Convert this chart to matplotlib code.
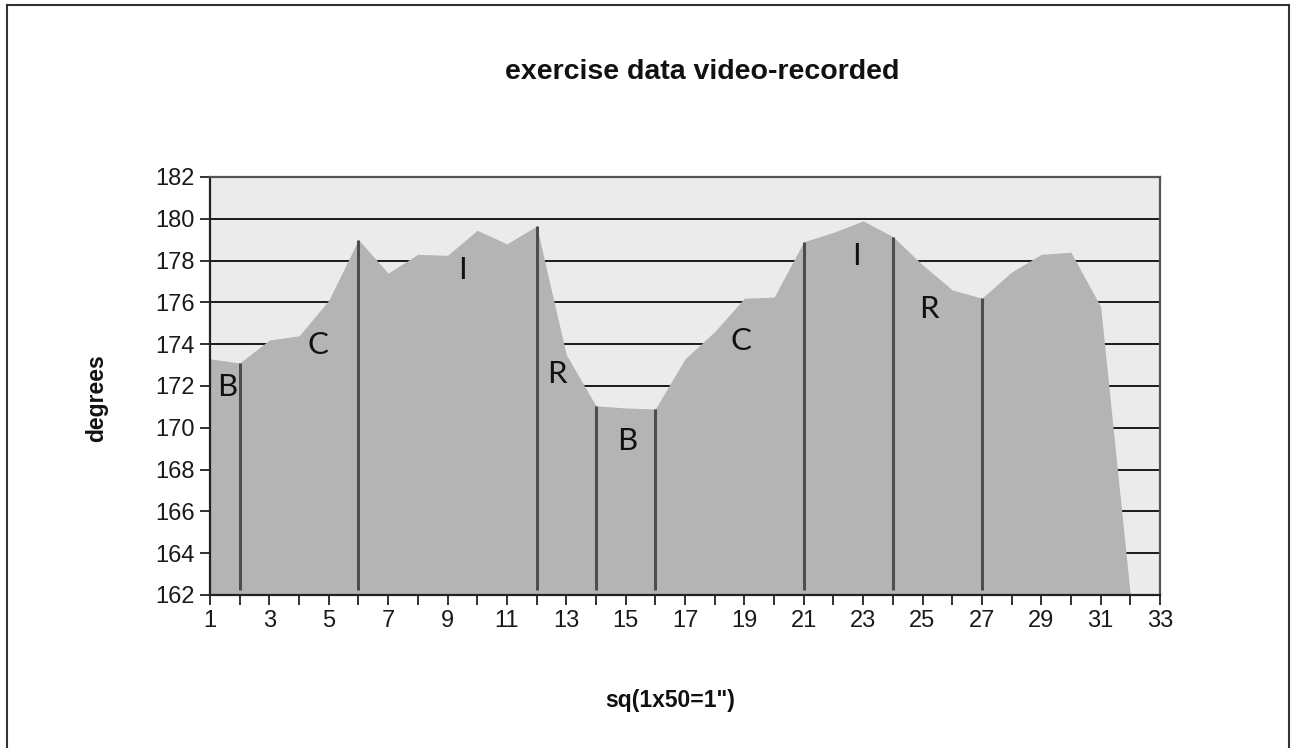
import matplotlib
matplotlib.use("Agg")
import matplotlib.pyplot as plt
from matplotlib.lines import Line2D

# ---- data ----
x_vals = list(range(1, 33))
degrees = [173.3, 173.1, 174.2, 174.4, 176.1, 179.0, 177.4, 178.3, 178.25, 179.45,
           178.8, 179.65, 173.5, 171.05, 170.95, 170.9, 173.3, 174.6, 176.2, 176.25,
           178.9, 179.35, 179.9, 179.15, 177.8, 176.6, 176.2, 177.45, 178.3, 178.4,
           175.8, 162.0]
divider_x = [2, 6, 12, 14, 16, 21, 24, 27]
phase_labels = ["B", "C", "I", "R", "B", "C", "I", "R"]
phase_x = [1.57, 4.64, 9.52, 12.68, 15.04, 18.88, 22.78, 25.2]
phase_y = [171.95, 173.96, 177.55, 172.57, 169.37, 174.15, 178.2, 175.7]
y_ticks = list(range(162, 183, 2))
x_tick_labels = list(range(1, 34, 2))
title = "exercise data video-recorded"
x_label = 'sq(1x50=1")'
y_label = "degrees"

plt.rcParams['font.family'] = ['Liberation Sans', 'DejaVu Sans']

fig = plt.figure(figsize=(12.91, 7.48), dpi=100)
ax = fig.add_axes([210/1291, 1 - 595/748, (1160-210)/1291, (595-177)/748])
ax.set_facecolor('#ebebeb')

ax.set_xlim(1, 33)
ax.set_ylim(162, 182)

# gridlines (behind area)
for yv in y_ticks:
    ax.axhline(yv, color='#1a1a1a', lw=1.4, zorder=1)

ax.fill_between(x_vals, degrees, 162, color='#b4b4b4', lw=0, zorder=2)

# phase dividers
val_map = dict(zip(x_vals, degrees))
for xv in divider_x:
    ax.vlines(xv, 162.25, val_map[xv], color='#4d4d4d', lw=2.2, zorder=3)

for lab, px, py in zip(phase_labels, phase_x, phase_y):
    ax.text(px, py, lab, ha='center', va='center', fontsize=22.5,
            family=['Lato', 'DejaVu Sans'], color='#111111', zorder=4)

ax.set_yticks(y_ticks)
ax.set_yticklabels([str(v) for v in y_ticks])
ax.set_xticks(list(range(1, 34)))
ax.set_xticklabels([str(v) if v in x_tick_labels else '' for v in range(1, 34)])
ax.tick_params(axis='both', direction='out', length=7, width=1.3, color='#222222',
               labelsize=17, labelcolor='#1a1a1a', pad=4)

for side in ['left', 'bottom']:
    ax.spines[side].set_color('#222222')
    ax.spines[side].set_linewidth(1.6)
for side in ['top', 'right']:
    ax.spines[side].set_color('#555555')
    ax.spines[side].set_linewidth(1.6)

fig.text(702/1291, 1 - 72/748, title, ha='center', va='center',
         fontsize=20.5, fontweight='bold', color='#111111')
fig.text(670/1291, 1 - 700/748, x_label, ha='center', va='center',
         fontsize=16.5, fontweight='bold', color='#111111')
fig.text(97/1291, 1 - 398/748, y_label, ha='center', va='center', rotation=90,
         fontsize=16.5, fontweight='bold', color='#111111')

# outer chart border
bl, br, bt = 7/1291, 1289/1291, 1 - 5/748
fig.add_artist(Line2D([bl, bl], [0, bt], transform=fig.transFigure, color='#333333', lw=1.5))
fig.add_artist(Line2D([bl, br], [bt, bt], transform=fig.transFigure, color='#333333', lw=1.5))
fig.add_artist(Line2D([br, br], [0, bt], transform=fig.transFigure, color='#333333', lw=1.5))

fig.savefig('out.png', dpi=100)
